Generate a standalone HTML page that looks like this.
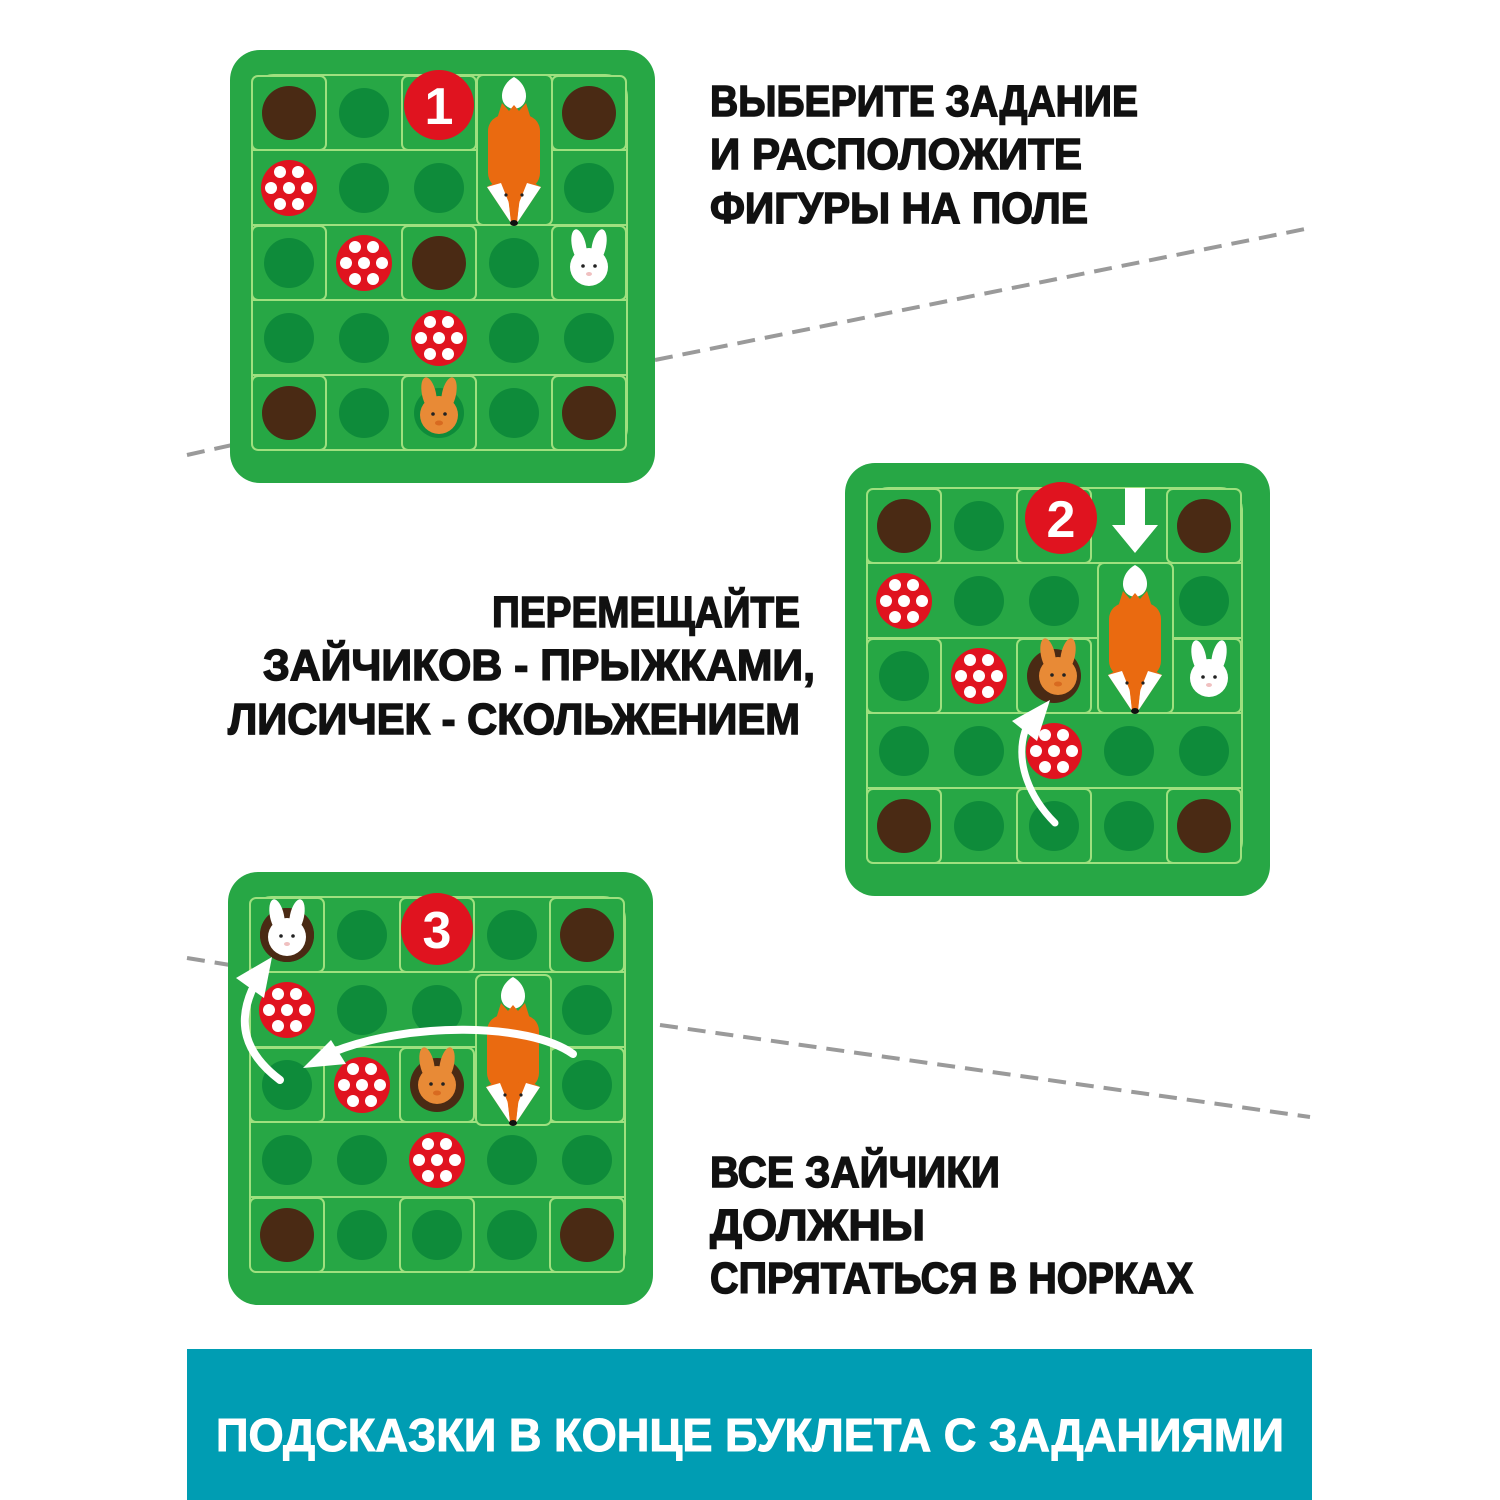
<!DOCTYPE html>
<html><head><meta charset="utf-8"><style>
html,body{margin:0;padding:0;background:#fff;}
svg{display:block;}
text{font-family:"Liberation Sans",sans-serif;font-weight:bold;}
</style></head><body>
<svg width="1500" height="1500" viewBox="0 0 1500 1500" xmlns="http://www.w3.org/2000/svg">
<defs>
  <g id="dk"><circle r="25" fill="#0e8b3a"/></g>
  <g id="hole"><circle r="27" fill="#4a2a14"/></g>
  <g id="sq"><rect x="-37" y="-37" width="74" height="74" rx="6" fill="#26a744" stroke="#9fe07f" stroke-width="2"/></g>
  <g id="mush"><circle r="28" fill="#e0131f"/>
    <g fill="#fff"><circle cx="-9" cy="-16" r="6"/><circle cx="9" cy="-16" r="6"/><circle cx="-18" cy="0" r="6"/><circle cx="0" cy="0" r="6"/><circle cx="18" cy="0" r="6"/><circle cx="-9" cy="16" r="6"/><circle cx="9" cy="16" r="6"/></g></g>
  <g id="brab"><ellipse cx="-10" cy="-12" rx="7" ry="17" transform="rotate(-12 -10 -12)" fill="#e88a36"/><ellipse cx="10" cy="-12" rx="7" ry="17" transform="rotate(12 10 -12)" fill="#e88a36"/><circle cx="0" cy="9" r="19" fill="#e88a36"/><circle cx="-6" cy="8" r="1.8" fill="#222"/><circle cx="6" cy="8" r="1.8" fill="#222"/><ellipse cx="0" cy="17" rx="4" ry="2.5" fill="#d86a20"/></g>
  <g id="wrab"><ellipse cx="-10" cy="-12" rx="7" ry="17" transform="rotate(-12 -10 -12)" fill="#fff"/><ellipse cx="10" cy="-12" rx="7" ry="17" transform="rotate(12 10 -12)" fill="#fff"/><circle cx="0" cy="9" r="19" fill="#fff"/><circle cx="-6" cy="8" r="1.8" fill="#222"/><circle cx="6" cy="8" r="1.8" fill="#222"/><ellipse cx="0" cy="16" rx="3" ry="2" fill="#f0c0c0"/></g>
  <g id="fox">
    <rect x="0" y="0" width="75" height="150" rx="6" fill="#26a744" stroke="#9fe07f" stroke-width="2"/>
    <path d="M37 34 C20 32 22 10 37 2 C52 10 54 32 37 34Z" fill="#fff"/>
    <path d="M25 28 L32 36 L37 30 L42 36 L49 28 L54 44 L20 44Z" fill="#ea6a10"/>
    <rect x="11" y="40" width="52" height="74" rx="16" fill="#ea6a10"/>
    <path d="M10 112 L24 104 L37 110 L50 104 L64 112 L40 148 L34 148Z" fill="#ea6a10"/>
    <path d="M10 112 L24 108 L32 128 L34 148Z" fill="#fff"/>
    <path d="M64 112 L50 108 L42 128 L40 148Z" fill="#fff"/>
    <path d="M31 122 L37 132 L43 122 L40 146 L34 146Z" fill="#ea6a10"/>
    <circle cx="29" cy="120" r="1.6" fill="#222"/><circle cx="45" cy="120" r="1.6" fill="#222"/>
    <ellipse cx="37" cy="148" rx="4" ry="3" fill="#111"/>
  </g>
  <g id="base">
    <rect x="0" y="0" width="425" height="433" rx="30" fill="#27a745"/>
    <rect x="22" y="25" width="375" height="375" rx="22" fill="#27a745" stroke="#9fe07f" stroke-width="2"/>
    <g stroke="#9fe07f" stroke-width="2"><line x1="22" y1="100" x2="397" y2="100"/><line x1="22" y1="175" x2="397" y2="175"/><line x1="22" y1="250" x2="397" y2="250"/><line x1="22" y1="325" x2="397" y2="325"/></g>
    <use href="#sq" x="59" y="63"/><use href="#sq" x="209" y="63"/><use href="#sq" x="359" y="63"/>
    <use href="#sq" x="59" y="213"/><use href="#sq" x="209" y="213"/><use href="#sq" x="359" y="213"/>
    <use href="#sq" x="59" y="363"/><use href="#sq" x="209" y="363"/><use href="#sq" x="359" y="363"/>
    <g>
      <use href="#dk" x="134" y="63"/>
      <use href="#dk" x="134" y="138"/><use href="#dk" x="209" y="138"/><use href="#dk" x="284" y="138"/><use href="#dk" x="359" y="138"/>
      <use href="#dk" x="59" y="213"/><use href="#dk" x="284" y="213"/><use href="#dk" x="134" y="213"/>
      <use href="#dk" x="59" y="288"/><use href="#dk" x="134" y="288"/><use href="#dk" x="284" y="288"/><use href="#dk" x="359" y="288"/>
      <use href="#dk" x="134" y="363"/><use href="#dk" x="209" y="363"/><use href="#dk" x="284" y="363"/>
    </g>
    <use href="#hole" x="59" y="63"/><use href="#hole" x="359" y="63"/><use href="#hole" x="59" y="363"/><use href="#hole" x="359" y="363"/>
    <use href="#mush" x="59" y="138"/><use href="#mush" x="134" y="213"/><use href="#mush" x="209" y="288"/>
  </g>
</defs>

<g stroke="#9a9a9a" stroke-width="4" stroke-dasharray="18 10" fill="none">
  <line x1="187" y1="455" x2="232" y2="445"/>
  <line x1="655" y1="360" x2="1310" y2="228"/>
  <line x1="187" y1="958" x2="230" y2="965"/>
  <line x1="660" y1="1025" x2="1310" y2="1117"/>
</g>

<g transform="translate(230,50)">
  <use href="#base"/>
  <use href="#hole" x="209" y="213"/>
  <use href="#fox" x="247" y="25"/>
  <use href="#wrab" x="359" y="208"/>
  <use href="#brab" x="209" y="356"/>
  <circle cx="209" cy="55" r="35" fill="#e0131f"/>
  <text x="209" y="74" font-size="52" fill="#fff" text-anchor="middle">1</text>
</g>

<g transform="translate(845,463)">
  <use href="#base"/>
  <use href="#hole" x="209" y="213"/>
  <use href="#fox" x="253" y="100"/>
  <use href="#wrab" x="364" y="206"/>
  <use href="#brab" x="213" y="204"/>
  <path d="M280 25 L300 25 L300 62 L313 62 L290 90 L267 62 L280 62Z" fill="#fff"/>
  <circle cx="216" cy="55" r="36" fill="#e0131f"/>
  <text x="216" y="74" font-size="52" fill="#fff" text-anchor="middle">2</text>
  <path d="M210 360 C185 335 170 300 180 268" stroke="#fff" stroke-width="7" fill="none" stroke-linecap="round"/>
  <path d="M205 237 L167 258 L192 278Z" fill="#fff"/>
</g>

<g transform="translate(228,872)">
  <use href="#base"/>
  <use href="#dk" x="284" y="63"/>
  <use href="#dk" x="359" y="213"/>
  <use href="#hole" x="59" y="63"/>
  <use href="#hole" x="209" y="213"/>
  <use href="#fox" x="248" y="103"/>
  <use href="#wrab" x="59" y="56"/>
  <use href="#brab" x="209" y="204"/>
  <circle cx="209" cy="57" r="36" fill="#e0131f"/>
  <text x="209" y="76" font-size="52" fill="#fff" text-anchor="middle">3</text>
  <path d="M345 182 C300 150 180 150 105 180" stroke="#fff" stroke-width="8" fill="none" stroke-linecap="round"/>
  <path d="M75 196 L103 168 L118 192Z" fill="#fff"/>
  <path d="M52 208 C15 180 10 150 24 118" stroke="#fff" stroke-width="8" fill="none" stroke-linecap="round"/>
  <path d="M44 85 L8 106 L36 126Z" fill="#fff"/>
</g>

<g fill="#111" stroke="#111" stroke-width="1.5">
  <text x="710" y="116" font-size="44" textLength="428" lengthAdjust="spacingAndGlyphs">ВЫБЕРИТЕ ЗАДАНИЕ</text>
  <text x="710" y="169" font-size="44" textLength="372" lengthAdjust="spacingAndGlyphs">И РАСПОЛОЖИТЕ</text>
  <text x="710" y="223" font-size="44" textLength="378" lengthAdjust="spacingAndGlyphs">ФИГУРЫ НА ПОЛЕ</text>
  <text x="492" y="627" font-size="44" textLength="308" lengthAdjust="spacingAndGlyphs">ПЕРЕМЕЩАЙТЕ</text>
  <text x="263" y="680" font-size="44" textLength="552" lengthAdjust="spacingAndGlyphs">ЗАЙЧИКОВ - ПРЫЖКАМИ,</text>
  <text x="228" y="734" font-size="44" textLength="572" lengthAdjust="spacingAndGlyphs">ЛИСИЧЕК - СКОЛЬЖЕНИЕМ</text>
  <text x="710" y="1187" font-size="44" textLength="290" lengthAdjust="spacingAndGlyphs">ВСЕ ЗАЙЧИКИ</text>
  <text x="710" y="1240" font-size="44" textLength="215" lengthAdjust="spacingAndGlyphs">ДОЛЖНЫ</text>
  <text x="710" y="1293" font-size="44" textLength="483" lengthAdjust="spacingAndGlyphs">СПРЯТАТЬСЯ В НОРКАХ</text>
</g>

<rect x="187" y="1349" width="1125" height="151" fill="#009db3"/>
<text x="216" y="1451" font-size="46" fill="#fff" stroke="#fff" stroke-width="1" textLength="1068" lengthAdjust="spacingAndGlyphs">ПОДСКАЗКИ В КОНЦЕ БУКЛЕТА С ЗАДАНИЯМИ</text>
</svg>
</body></html>
